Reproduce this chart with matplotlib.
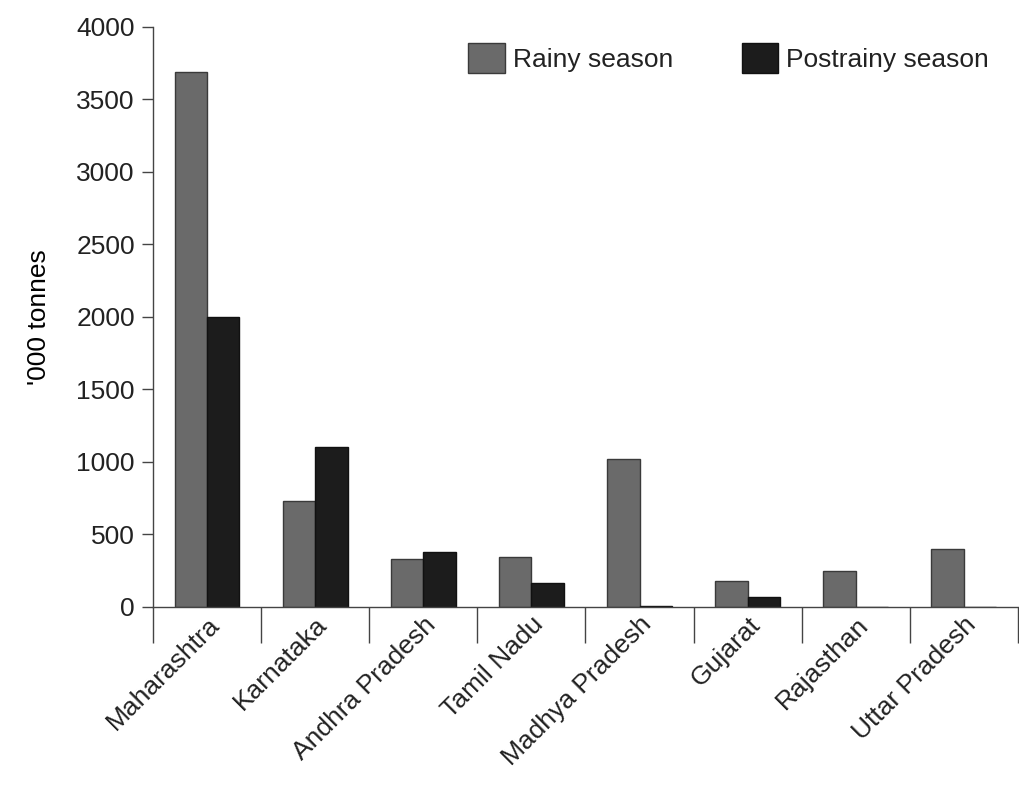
import numpy as np
import matplotlib.pyplot as plt

plt.rcParams['font.family'] = ['Liberation Sans', 'DejaVu Sans']
plt.rcParams['text.color'] = '#222222'
plt.rcParams['xtick.color'] = '#444444'
plt.rcParams['ytick.color'] = '#444444'
plt.rcParams['xtick.labelcolor'] = '#222222'
plt.rcParams['ytick.labelcolor'] = '#222222'

states = ['Maharashtra', 'Karnataka', 'Andhra Pradesh', 'Tamil Nadu',
          'Madhya Pradesh', 'Gujarat', 'Rajasthan', 'Uttar Pradesh']
rainy = [3690, 730, 330, 340, 1020, 180, 250, 400]
postrainy = [2000, 1100, 380, 165, 8, 70, 0, 0]

x = np.arange(len(states))
w = 0.3

fig = plt.figure(figsize=(10.2, 7.87), dpi=100)
ax = fig.add_axes([0.15, 0.229, 0.848, 0.737])

ax.bar(x - w/2, rainy, width=w, color='#6a6a6a', edgecolor='#3a3a3a', linewidth=1,
       label='Rainy season')
ax.bar(x + w/2, postrainy, width=w, color='#1c1c1c', edgecolor='#111111', linewidth=1,
       label='Postrainy season')

ax.set_xlim(-0.5, len(states) - 0.5)
ax.set_ylim(0, 4000)
ax.set_yticks(np.arange(0, 4001, 500))
ax.tick_params(axis='y', direction='out', length=8, width=1, labelsize=19, pad=5)

# boundary ticks (long, no labels) and centred labels
ax.set_xticks(np.arange(-0.5, len(states)), labels=[''] * (len(states) + 1))
ax.tick_params(axis='x', which='major', direction='out', length=26, width=1)
ax.set_xticks(x, labels=states, minor=True)
ax.tick_params(axis='x', which='minor', length=0, labelsize=19, pad=4)
for lab in ax.get_xticklabels(minor=True):
    lab.set_rotation(45)
    lab.set_ha('right')
    lab.set_rotation_mode('anchor')

for s in ['top', 'right']:
    ax.spines[s].set_visible(False)
for s in ['left', 'bottom']:
    ax.spines[s].set_color('#444444')
    ax.spines[s].set_linewidth(1)

ax.set_ylabel("'000 tonnes", fontsize=19, labelpad=18)

ax.legend(loc='upper right', bbox_to_anchor=(0.985, 1.0), ncol=2, frameon=False,
          fontsize=19, handlelength=1.4, handleheight=1.4, columnspacing=2.6,
          handletextpad=0.3, borderaxespad=0.2)

fig.savefig('out.png', dpi=100)
